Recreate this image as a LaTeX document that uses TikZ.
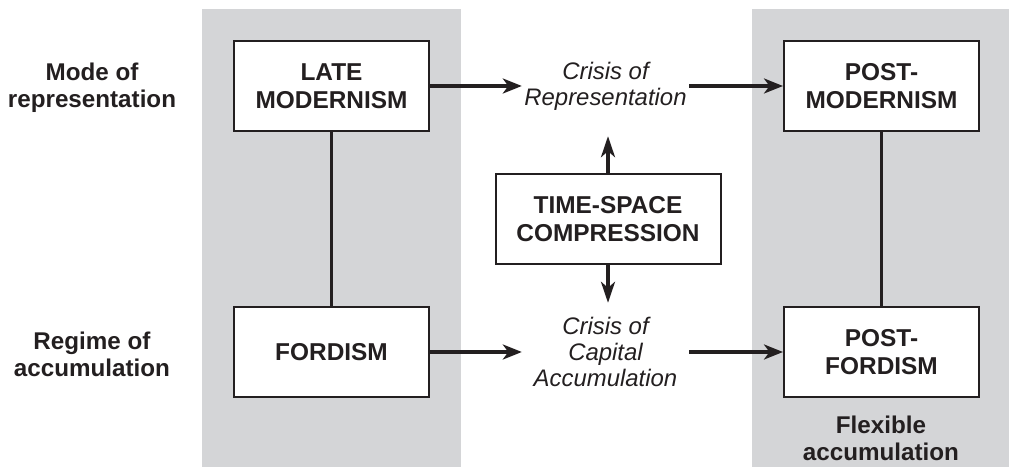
\documentclass[tikz,border=0pt]{standalone}
\usepackage{fontspec}
\setmainfont{Liberation Sans}
\usetikzlibrary{arrows.meta}
\definecolor{panelgray}{HTML}{D4D5D7}
\definecolor{ink}{HTML}{231F20}
\begin{document}
\begin{tikzpicture}[x=1bp,y=-1bp,
  boxnode/.style={draw=ink, line width=2bp, fill=white, minimum width=195bp, minimum height=90bp,
    inner sep=0pt, align=center, text=ink, font=\bfseries\fontsize{24.5}{28}\selectfont},
  crisisnode/.style={inner sep=0pt, align=center, text=ink, minimum width=167bp,
    font=\itshape\fontsize{24}{26}\selectfont},
  sidelabel/.style={inner sep=0pt, align=center, text=ink, font=\bfseries\fontsize{24.3}{27}\selectfont},
  arrowline/.style={draw=ink, line width=3.2bp, -{Stealth[length=19bp,width=15bp,inset=5.5bp]}},
  vertarrow/.style={draw=ink, line width=3.4bp, -{Stealth[length=21bp,width=14bp,inset=6bp]}},
  plainline/.style={draw=ink, line width=3bp}
]
\useasboundingbox (0,0) rectangle (1009,467);
% panels
\fill[panelgray] (202,9) rectangle (461,467);
\fill[panelgray] (752,9) rectangle (1009,467);

% boxes
\node[boxnode] (lm) at (331.5,86) {LATE\\MODERNISM};
\node[boxnode] (ford) at (331.5,352) {FORDISM};
\node[boxnode] (pm) at (881.5,86) {POST-\\MODERNISM};
\node[boxnode] (pf) at (881.5,352) {POST-\\FORDISM};
\node[boxnode, minimum width=225bp] (tsc) at (608,219) {TIME-SPACE\\COMPRESSION};

% crisis texts
\node[crisisnode, minimum height=100bp] (crep) at (605.5,86) {Crisis of\\Representation};
\node[crisisnode, minimum height=98bp] (ccap) at (605.5,352) {Crisis of\\Capital\\Accumulation};

% side labels
\node[sidelabel] (mode) at (92,88) {Mode of\\representation};
\node[sidelabel] (regime) at (92,354) {Regime of\\accumulation};
\node[sidelabel] (flex) at (881,438) {Flexible\\accumulation};

% connectors
\draw[plainline] (lm.south) -- (ford.north);
\draw[plainline] (pm.south) -- (pf.north);
\draw[arrowline] (lm.east) -- (crep.west);
\draw[arrowline] (crep.east) -- (pm.west);
\draw[arrowline] (ford.east) -- (ccap.west);
\draw[arrowline] (ccap.east) -- (pf.west);
\draw[vertarrow] (tsc.north) -- (tsc.north |- crep.south);
\draw[vertarrow] (tsc.south) -- (tsc.south |- ccap.north);
\end{tikzpicture}
\end{document}
